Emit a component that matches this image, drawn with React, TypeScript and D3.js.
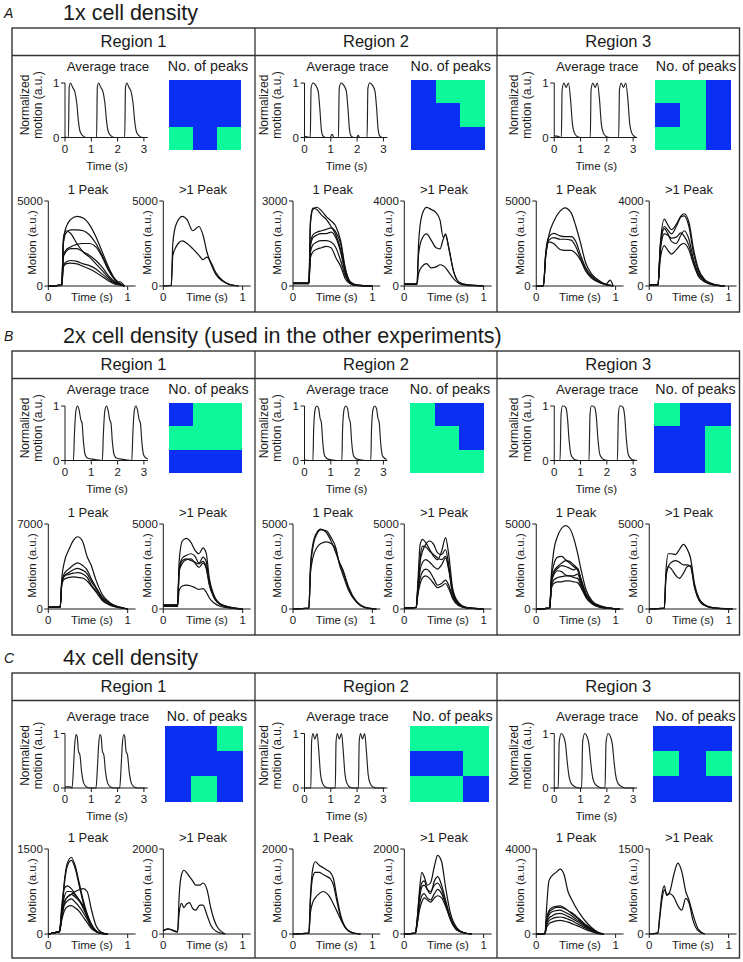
import React from "react";
import * as d3 from "d3";

type Pt = [number, number];

// ---------------- text ----------------
const PANEL_LETTERS = ["A", "B", "C"];
const PANEL_TITLES = ["1x cell density", "2x cell density (used in the other experiments)", "4x cell density"];
const REGION_LABELS = ["Region 1", "Region 2", "Region 3"];
const AVG_TITLE = "Average trace";
const MAP_TITLE = "No. of peaks";
const ONE_TITLE = "1 Peak";
const MULTI_TITLE = ">1 Peak";
const AVG_Y_LABEL = ["Normalized", "motion (a.u.)"];
const PEAK_Y_LABEL = "Motion (a.u.)";
const X_LABEL = "Time (s)";

const AVG_X_TICKS = [0, 1, 2, 3];
const AVG_Y_TICKS = [0, 1];
const PEAK_X_TICKS = [0, 1];

const PEAK_CLASSES = [1, 2];
const PEAK_COLORS = ["#0b2ff2", "#0df79b"];

// y-axis maxima of the "1 Peak" and ">1 Peak" plots (panel x region)
const ONE_MAX = [[5000, 3000, 5000], [7000, 5000, 5000], [1500, 2000, 4000]];
const MULTI_MAX = [[5000, 4000, 4000], [5000, 5000, 5000], [2000, 2000, 1500]];

// ---------------- average traces (time s, normalized motion) ----------------
const avgA1: Pt[] = [[0, 0.01], [0.13, 0], [0.16, 0.92], [0.21, 1], [0.29, 0.92], [0.38, 0.83], [0.45, 0.62], [0.51, 0.3], [0.58, 0.1], [0.68, 0.03], [0.83, 0],
  [1.2, 0], [1.23, 0.92], [1.28, 1], [1.36, 0.92], [1.45, 0.83], [1.52, 0.62], [1.58, 0.3], [1.65, 0.1], [1.75, 0.03], [1.9, 0],
  [2.27, 0], [2.3, 0.92], [2.35, 1], [2.43, 0.92], [2.52, 0.83], [2.59, 0.62], [2.65, 0.3], [2.72, 0.1], [2.82, 0.03], [2.97, 0], [3.05, 0]];
const avgA2: Pt[] = [[0, 0.02], [0.22, 0], [0.25, 0.9], [0.32, 1], [0.42, 0.96], [0.52, 0.85], [0.58, 0.55], [0.64, 0.15], [0.7, 0.03], [0.8, 0], [0.97, 0], [1.05, 0.06], [1.12, 0],
  [1.29, 0], [1.32, 0.9], [1.39, 1], [1.49, 0.96], [1.59, 0.85], [1.65, 0.55], [1.71, 0.15], [1.77, 0.03], [1.87, 0], [1.98, 0], [2.04, 0.04], [2.1, 0],
  [2.38, 0], [2.41, 0.9], [2.48, 1], [2.58, 0.96], [2.68, 0.85], [2.74, 0.55], [2.8, 0.15], [2.86, 0.03], [2.96, 0], [3.05, 0]];
const avgA3: Pt[] = [[0, 0.03], [0.15, 0.02], [0.27, 0], [0.3, 0.88], [0.37, 1], [0.45, 0.92], [0.54, 1], [0.62, 0.7], [0.69, 0.25], [0.77, 0.08], [0.87, 0.02], [1.02, 0],
  [1.37, 0], [1.4, 0.88], [1.47, 1], [1.55, 0.92], [1.64, 1], [1.72, 0.7], [1.79, 0.25], [1.87, 0.08], [1.97, 0.02], [2.12, 0],
  [2.45, 0], [2.48, 0.88], [2.55, 1], [2.63, 0.92], [2.72, 1], [2.8, 0.7], [2.87, 0.25], [2.95, 0.08], [3.05, 0.02], [3.12, 0]];
const avgB1: Pt[] = [[0.1, 0], [0.32, 0], [0.36, 0.5], [0.42, 0.93], [0.48, 1], [0.54, 0.92], [0.6, 0.75], [0.65, 0.68], [0.7, 0.35], [0.77, 0.1], [0.87, 0.04], [1.12, 0.02],
  [1.42, 0], [1.46, 0.5], [1.52, 0.93], [1.58, 1], [1.64, 0.92], [1.7, 0.75], [1.75, 0.68], [1.8, 0.35], [1.87, 0.1], [1.97, 0.04], [2.22, 0.02],
  [2.54, 0], [2.58, 0.5], [2.64, 0.93], [2.7, 1], [2.76, 0.92], [2.82, 0.75], [2.87, 0.68], [2.92, 0.35], [2.99, 0.1], [3.09, 0.04], [3.15, 0.03]];
const avgB2: Pt[] = [[0, 0.01], [0.32, 0], [0.35, 0.6], [0.41, 0.95], [0.47, 1], [0.54, 0.95], [0.59, 0.78], [0.64, 0.7], [0.7, 0.3], [0.77, 0.08], [0.92, 0.02], [1.22, 0],
  [1.42, 0], [1.45, 0.6], [1.51, 0.95], [1.57, 1], [1.64, 0.95], [1.69, 0.78], [1.74, 0.7], [1.8, 0.3], [1.87, 0.08], [2.02, 0.02], [2.32, 0],
  [2.52, 0], [2.55, 0.6], [2.61, 0.95], [2.67, 1], [2.74, 0.95], [2.79, 0.78], [2.84, 0.7], [2.9, 0.3], [2.97, 0.08], [3.12, 0.02]];
const avgB3: Pt[] = [[0, 0], [0.22, 0], [0.26, 0.85], [0.31, 1], [0.36, 1], [0.44, 0.97], [0.5, 0.8], [0.56, 0.4], [0.64, 0.1], [0.77, 0.02], [0.97, 0],
  [1.32, 0], [1.36, 0.85], [1.41, 1], [1.46, 1], [1.54, 0.97], [1.6, 0.8], [1.66, 0.4], [1.74, 0.1], [1.87, 0.02], [2.07, 0],
  [2.4, 0], [2.44, 0.85], [2.49, 1], [2.54, 1], [2.62, 0.97], [2.68, 0.8], [2.74, 0.4], [2.82, 0.1], [2.95, 0.02], [3.12, 0]];
const avgC1: Pt[] = [[0, 0.02], [0.2, 0.02], [0.27, 0], [0.32, 0.35], [0.37, 0.8], [0.42, 0.98], [0.46, 0.95], [0.51, 0.68], [0.57, 0.6], [0.63, 0.3], [0.72, 0.08], [0.82, 0.02], [0.97, 0],
  [1.18, 0], [1.23, 0.35], [1.28, 0.8], [1.33, 0.98], [1.37, 0.95], [1.42, 0.68], [1.48, 0.6], [1.54, 0.3], [1.63, 0.08], [1.73, 0.02], [1.88, 0],
  [2.08, 0], [2.13, 0.35], [2.18, 0.8], [2.23, 0.98], [2.27, 0.95], [2.32, 0.68], [2.38, 0.6], [2.44, 0.3], [2.53, 0.08], [2.63, 0.02], [2.78, 0], [3.05, 0]];
const avgC2: Pt[] = [[0, 0], [0.24, 0], [0.27, 0.85], [0.32, 1], [0.39, 0.9], [0.48, 1], [0.54, 0.7], [0.61, 0.25], [0.69, 0.08], [0.79, 0.02], [0.94, 0],
  [1.17, 0], [1.2, 0.85], [1.25, 1], [1.32, 0.9], [1.41, 1], [1.47, 0.7], [1.54, 0.25], [1.62, 0.08], [1.72, 0.02], [1.87, 0],
  [2.05, 0], [2.08, 0.85], [2.13, 1], [2.2, 0.9], [2.29, 1], [2.35, 0.7], [2.42, 0.25], [2.5, 0.08], [2.6, 0.02], [2.75, 0], [3.05, 0]];
const avgC3: Pt[] = [[0, 0], [0.15, 0], [0.19, 0.85], [0.27, 1], [0.35, 0.95], [0.43, 0.8], [0.49, 0.5], [0.55, 0.25], [0.65, 0.08], [0.8, 0.02], [0.95, 0],
  [1.04, 0], [1.08, 0.85], [1.16, 1], [1.24, 0.95], [1.32, 0.8], [1.38, 0.5], [1.44, 0.25], [1.54, 0.08], [1.69, 0.02], [1.84, 0],
  [1.93, 0], [1.97, 0.85], [2.05, 1], [2.13, 0.95], [2.21, 0.8], [2.27, 0.5], [2.33, 0.25], [2.43, 0.08], [2.58, 0.02], [2.73, 0], [3.05, 0]];

// ---------------- "No. of peaks" maps (1 = one peak, 2 = more than one) ----------------
const gridA1 = [[1, 1, 1], [1, 1, 1], [2, 1, 2]];
const gridA2 = [[1, 2, 2], [1, 1, 2], [1, 1, 1]];
const gridA3 = [[2, 2, 1], [1, 2, 1], [2, 2, 1]];
const gridB1 = [[1, 2, 2], [2, 2, 2], [1, 1, 1]];
const gridB2 = [[2, 1, 1], [2, 2, 1], [2, 2, 2]];
const gridB3 = [[2, 1, 1], [1, 1, 2], [1, 1, 2]];
const gridC1 = [[1, 1, 2], [1, 1, 1], [1, 2, 1]];
const gridC2 = [[2, 2, 2], [1, 1, 2], [2, 2, 1]];
const gridC3 = [[1, 1, 1], [2, 1, 2], [1, 1, 1]];

// ---------------- single-cell traces: times (s) and motion (a.u.) ----------------
const oneA1_t = [0, 0.17, 0.19, 0.22, 0.28, 0.36, 0.44, 0.52, 0.6, 0.68, 0.76, 0.84, 0.9, 0.96];
const oneA1 = [
  [0, 50, 2600, 3400, 3900, 4100, 4000, 3600, 2900, 2000, 1100, 400, 150, 0],
  [0, 50, 2500, 3100, 3300, 3300, 3250, 3000, 2500, 1800, 1000, 400, 150, 0],
  [0, 50, 2800, 3250, 3100, 2500, 2000, 1700, 1300, 900, 500, 200, 100, 0],
  [0, 50, 1800, 2100, 2300, 2450, 2500, 2500, 2300, 1700, 900, 350, 120, 0],
  [0, 50, 1700, 2000, 2200, 2200, 2000, 1800, 1500, 1100, 600, 250, 100, 0],
  [0, 50, 1200, 1400, 1500, 1450, 1300, 1200, 1000, 700, 400, 150, 250, 0],
  [0, 50, 1100, 1300, 1350, 1300, 1150, 1000, 800, 550, 300, 100, 50, 0],
];
const multiA1_t = [0, 0.1, 0.12, 0.16, 0.24, 0.3, 0.37, 0.45, 0.5, 0.55, 0.6, 0.66, 0.74, 0.84, 0.95];
const multiA1 = [
  [0, 30, 2500, 3600, 4100, 3900, 3250, 3500, 3000, 2000, 1300, 700, 300, 80, 0],
  [0, 30, 1800, 2300, 2650, 2500, 2200, 1800, 1550, 1700, 1400, 800, 350, 80, 0],
];
const oneA2_t = [0, 0.2, 0.22, 0.25, 0.3, 0.36, 0.42, 0.48, 0.54, 0.6, 0.66, 0.72, 0.8, 1.0];
const oneA2 = [
  [100, 100, 2200, 2700, 2780, 2650, 2450, 2300, 2100, 1600, 600, 150, 30, 0],
  [100, 100, 2300, 2750, 2700, 2500, 2350, 2100, 1800, 1300, 500, 120, 30, 0],
  [100, 100, 1500, 1800, 1900, 1950, 2000, 2050, 1900, 1500, 600, 150, 30, 0],
  [100, 100, 1400, 1700, 1800, 1850, 1850, 1900, 1700, 1200, 450, 100, 30, 0],
  [80, 80, 1200, 1450, 1550, 1600, 1600, 1550, 1350, 900, 350, 100, 20, 0],
  [80, 80, 1000, 1200, 1300, 1350, 1400, 1350, 1000, 700, 250, 80, 20, 0],
];
const multiA2_t = [0, 0.16, 0.18, 0.22, 0.28, 0.34, 0.4, 0.45, 0.49, 0.52, 0.56, 0.62, 0.7, 0.8, 1.0];
const multiA2 = [
  [100, 100, 2000, 3300, 3700, 3600, 3450, 3100, 2300, 2400, 1800, 700, 150, 50, 0],
  [100, 100, 1500, 2200, 2450, 2150, 1800, 1750, 2200, 2450, 1800, 700, 150, 50, 0],
  [80, 80, 600, 900, 1050, 850, 900, 1000, 950, 850, 650, 350, 100, 30, 0],
];
const oneA3_t = [0, 0.09, 0.12, 0.16, 0.22, 0.3, 0.36, 0.44, 0.5, 0.56, 0.62, 0.7, 0.8, 0.88, 0.93, 0.97];
const oneA3 = [
  [0, 0, 1800, 3000, 3800, 4400, 4600, 4300, 3500, 2500, 1400, 700, 300, 100, 350, 0],
  [0, 0, 2000, 2900, 3100, 2950, 2900, 2900, 2600, 1800, 1100, 600, 250, 100, 50, 0],
  [0, 0, 1900, 2700, 2850, 2750, 2750, 2700, 2300, 1600, 1000, 500, 200, 80, 40, 0],
  [0, 0, 1800, 2600, 2500, 2150, 2100, 2100, 1900, 1500, 900, 450, 200, 80, 30, 0],
];
const multiA3_t = [0, 0.11, 0.14, 0.19, 0.23, 0.28, 0.34, 0.4, 0.44, 0.5, 0.56, 0.62, 0.7, 0.8, 0.95];
const multiA3 = [
  [50, 50, 2000, 3150, 2900, 2650, 2900, 3300, 3400, 3000, 1700, 800, 300, 100, 0],
  [50, 50, 1900, 2800, 2650, 2450, 2800, 3250, 3300, 2800, 1500, 700, 250, 80, 0],
  [50, 50, 1800, 2700, 2500, 2100, 2000, 2400, 2600, 2200, 1200, 600, 250, 80, 0],
  [50, 50, 1700, 2450, 2400, 2250, 2300, 2500, 2350, 1900, 1100, 500, 200, 60, 0],
  [50, 50, 1300, 1900, 1700, 1500, 1700, 1950, 2000, 1700, 1000, 450, 200, 60, 0],
];
const oneB1_t = [0, 0.15, 0.17, 0.2, 0.26, 0.32, 0.37, 0.43, 0.49, 0.54, 0.6, 0.68, 0.78, 0.9, 1.0];
const oneB1 = [
  [150, 150, 2500, 3800, 4900, 5700, 5950, 5600, 4300, 3600, 2400, 1200, 500, 150, 0],
  [150, 150, 2200, 2900, 3300, 3650, 3800, 3600, 3200, 2500, 1800, 1000, 450, 150, 0],
  [150, 150, 2100, 2700, 3000, 3250, 3350, 3200, 2900, 2300, 1700, 900, 400, 120, 0],
  [150, 150, 2100, 2700, 2850, 2950, 3000, 2900, 2600, 2000, 1500, 800, 350, 100, 0],
  [150, 150, 2000, 2450, 2600, 2650, 2600, 2550, 2300, 1900, 1400, 700, 300, 100, 0],
];
const multiB1_t = [0, 0.18, 0.2, 0.24, 0.29, 0.35, 0.4, 0.45, 0.5, 0.54, 0.58, 0.64, 0.72, 0.85, 1.0];
const multiB1 = [
  [250, 250, 2800, 4000, 4150, 3900, 3450, 3250, 3600, 3300, 1800, 800, 300, 100, 0],
  [250, 250, 2400, 3000, 3150, 3250, 3100, 2700, 3050, 2800, 1600, 700, 300, 100, 0],
  [200, 200, 2300, 2850, 2950, 2850, 2750, 2650, 2800, 2500, 1500, 700, 250, 80, 0],
  [200, 200, 2200, 2700, 2900, 2950, 2700, 2450, 2700, 2400, 1400, 650, 250, 80, 0],
  [150, 150, 1100, 1350, 1400, 1350, 1250, 1150, 1200, 1000, 650, 350, 150, 50, 0],
];
const oneB2_t = [0, 0.2, 0.22, 0.25, 0.3, 0.35, 0.42, 0.48, 0.54, 0.58, 0.63, 0.7, 0.8, 0.9, 1.05];
const oneB2 = [
  [0, 50, 2500, 3800, 4500, 4700, 4500, 4000, 3300, 2800, 2200, 1200, 400, 100, 0],
  [0, 50, 2300, 3600, 4400, 4650, 4600, 4200, 3600, 2700, 2000, 1100, 400, 100, 0],
  [0, 50, 2100, 3000, 3600, 3850, 3950, 3850, 3500, 2800, 2300, 1300, 450, 120, 0],
];
const multiB2_t = [0, 0.15, 0.17, 0.2, 0.23, 0.27, 0.32, 0.37, 0.42, 0.47, 0.52, 0.56, 0.61, 0.68, 0.78, 1.0];
const multiB2 = [
  [50, 100, 1500, 3800, 4100, 3900, 3500, 3100, 2900, 3400, 4200, 3200, 1200, 400, 100, 0],
  [50, 100, 1200, 2800, 3400, 3800, 4000, 3800, 3300, 3200, 3500, 2600, 1000, 350, 80, 0],
  [50, 100, 1200, 3000, 3700, 3650, 3400, 3200, 3000, 2900, 3100, 2400, 900, 300, 80, 0],
  [50, 100, 1000, 2300, 2750, 2900, 2750, 2500, 2350, 2600, 3000, 2300, 900, 300, 80, 0],
  [50, 100, 900, 1800, 2200, 2350, 2200, 1800, 1400, 1500, 1700, 1400, 700, 250, 60, 0],
  [50, 100, 800, 1500, 1850, 1950, 1800, 1500, 1250, 1350, 1500, 1200, 600, 200, 60, 0],
];
const oneB3_t = [0, 0.17, 0.19, 0.22, 0.27, 0.32, 0.37, 0.42, 0.47, 0.52, 0.57, 0.63, 0.7, 0.8, 0.92, 1.05];
const oneB3 = [
  [0, 50, 2000, 3400, 4300, 4750, 4900, 4750, 4200, 3300, 2200, 1100, 500, 200, 60, 0],
  [0, 50, 1800, 2600, 3050, 3100, 2900, 2700, 2500, 2300, 1500, 800, 400, 150, 50, 0],
  [0, 50, 1600, 2200, 2500, 2700, 2850, 2800, 2600, 2350, 1700, 900, 450, 150, 50, 0],
  [0, 50, 1500, 2100, 2400, 2550, 2500, 2400, 2300, 2400, 1600, 800, 400, 150, 50, 0],
  [0, 50, 1500, 2000, 2250, 2200, 2000, 1950, 1950, 2050, 1400, 700, 350, 120, 40, 0],
  [0, 50, 1300, 1700, 1850, 1900, 1950, 1950, 1850, 1800, 1300, 700, 350, 120, 40, 0],
  [0, 50, 1200, 1500, 1600, 1600, 1650, 1650, 1600, 1550, 1200, 650, 300, 100, 30, 0],
];
const multiB3_t = [0, 0.19, 0.21, 0.24, 0.28, 0.33, 0.38, 0.43, 0.48, 0.52, 0.57, 0.63, 0.7, 0.8, 1.05];
const multiB3 = [
  [0, 50, 2200, 3250, 3250, 3200, 3500, 3800, 3500, 3000, 1500, 600, 250, 80, 0],
  [0, 50, 1800, 2500, 2750, 2850, 2750, 2600, 2600, 2500, 1300, 500, 200, 70, 0],
  [0, 50, 1900, 2500, 2350, 2000, 1800, 2100, 2500, 2550, 1300, 500, 200, 70, 0],
];
const oneC1_t = [0, 0.1, 0.14, 0.17, 0.2, 0.24, 0.29, 0.34, 0.39, 0.44, 0.49, 0.54, 0.6, 0.67, 0.75];
const oneC1 = [
  [0, 30, 40, 400, 900, 1250, 1350, 1200, 900, 600, 350, 150, 50, 10, 0],
  [0, 30, 40, 350, 850, 1200, 1300, 1150, 850, 550, 300, 150, 50, 10, 0],
  [0, 30, 40, 500, 800, 850, 800, 700, 600, 450, 300, 150, 50, 10, 0],
  [0, 30, 40, 400, 650, 750, 750, 680, 600, 500, 350, 180, 60, 10, 0],
  [0, 30, 40, 350, 550, 650, 700, 650, 580, 480, 330, 170, 60, 10, 0],
  [0, 30, 40, 300, 500, 580, 620, 560, 480, 380, 260, 130, 50, 10, 0],
  [0, 30, 40, 250, 400, 480, 500, 460, 400, 300, 200, 100, 40, 10, 0],
  [0, 30, 40, 300, 550, 650, 700, 750, 780, 800, 750, 450, 150, 30, 0],
];
const multiC1_t = [0, 0.06, 0.18, 0.2, 0.23, 0.26, 0.29, 0.33, 0.37, 0.41, 0.46, 0.5, 0.55, 0.6, 0.67, 0.78];
const multiC1 = [
  [80, 120, 50, 900, 1400, 1500, 1450, 1350, 1250, 1150, 1150, 1200, 1050, 600, 200, 0],
  [80, 120, 50, 500, 720, 620, 700, 740, 600, 560, 680, 680, 450, 200, 60, 0],
];
const oneC2_t = [0, 0.2, 0.22, 0.25, 0.28, 0.33, 0.38, 0.43, 0.47, 0.51, 0.55, 0.6, 0.66, 0.74, 0.85];
const oneC2 = [
  [0, 20, 900, 1550, 1700, 1620, 1560, 1500, 1450, 1300, 900, 450, 150, 30, 0],
  [0, 20, 800, 1350, 1450, 1450, 1400, 1350, 1300, 1150, 800, 400, 150, 30, 0],
  [0, 20, 500, 750, 850, 950, 1000, 950, 850, 700, 550, 350, 150, 40, 0],
];
const multiC2_t = [0, 0.14, 0.16, 0.19, 0.22, 0.25, 0.29, 0.33, 0.38, 0.42, 0.47, 0.52, 0.58, 0.66, 0.75, 0.85];
const multiC2 = [
  [0, 20, 300, 1000, 1450, 1350, 1150, 1200, 1600, 1850, 1700, 1100, 500, 150, 30, 0],
  [0, 20, 300, 900, 1200, 1250, 1050, 950, 1250, 1350, 1150, 800, 400, 120, 30, 0],
  [0, 20, 250, 800, 1100, 1150, 1050, 1000, 1150, 1200, 1050, 750, 350, 100, 30, 0],
  [0, 20, 200, 650, 900, 950, 850, 800, 950, 1050, 950, 700, 350, 100, 30, 0],
  [0, 20, 200, 550, 750, 850, 800, 750, 850, 900, 850, 650, 350, 100, 30, 0],
];
const oneC3_t = [0, 0.11, 0.13, 0.16, 0.2, 0.25, 0.3, 0.35, 0.4, 0.45, 0.5, 0.56, 0.62, 0.7, 0.78, 0.85];
const oneC3 = [
  [0, 20, 1200, 2500, 2750, 2900, 3050, 2800, 2000, 1600, 1250, 900, 600, 300, 80, 0],
  [0, 20, 700, 1100, 1250, 1300, 1320, 1250, 1100, 1000, 850, 650, 450, 250, 60, 0],
  [0, 20, 650, 1000, 1150, 1250, 1250, 1200, 1100, 950, 800, 600, 420, 230, 50, 0],
  [0, 20, 600, 900, 1050, 1100, 1120, 1050, 950, 850, 700, 550, 380, 200, 50, 0],
  [0, 20, 500, 750, 850, 950, 970, 920, 830, 730, 620, 480, 330, 170, 40, 0],
  [0, 20, 400, 620, 720, 780, 800, 770, 700, 620, 520, 400, 280, 150, 30, 0],
  [0, 20, 300, 480, 560, 620, 640, 610, 560, 490, 410, 320, 220, 110, 20, 0],
];
const multiC3_t = [0, 0.11, 0.13, 0.16, 0.19, 0.22, 0.26, 0.31, 0.36, 0.41, 0.46, 0.5, 0.55, 0.62, 0.7];
const multiC3 = [
  [0, 20, 300, 700, 850, 680, 750, 1050, 1250, 1100, 750, 600, 350, 80, 0],
  [0, 20, 250, 600, 780, 700, 710, 650, 500, 420, 630, 550, 250, 50, 0],
];

const REGIONS = [
  [
    { avg: avgA1, grid: gridA1, oneT: oneA1_t, one: oneA1, multiT: multiA1_t, multi: multiA1 },
    { avg: avgA2, grid: gridA2, oneT: oneA2_t, one: oneA2, multiT: multiA2_t, multi: multiA2 },
    { avg: avgA3, grid: gridA3, oneT: oneA3_t, one: oneA3, multiT: multiA3_t, multi: multiA3 },
  ],
  [
    { avg: avgB1, grid: gridB1, oneT: oneB1_t, one: oneB1, multiT: multiB1_t, multi: multiB1 },
    { avg: avgB2, grid: gridB2, oneT: oneB2_t, one: oneB2, multiT: multiB2_t, multi: multiB2 },
    { avg: avgB3, grid: gridB3, oneT: oneB3_t, one: oneB3, multiT: multiB3_t, multi: multiB3 },
  ],
  [
    { avg: avgC1, grid: gridC1, oneT: oneC1_t, one: oneC1, multiT: multiC1_t, multi: multiC1 },
    { avg: avgC2, grid: gridC2, oneT: oneC2_t, one: oneC2, multiT: multiC2_t, multi: multiC2 },
    { avg: avgC3, grid: gridC3, oneT: oneC3_t, one: oneC3, multiT: multiC3_t, multi: multiC3 },
  ],
];

// ---------------- layout ----------------
const W = 743;
const H = 962;
const FONT = "'Liberation Sans', Arial, Helvetica, sans-serif";
const INK = "#1a1a1a";
const COL_EDGES = [12, 255, 497, 739.5];
const BOX_TOP = [28, 351, 673];
const BOX_BOTTOM = [312, 635, 958];
const HEADER_H = 27.5;
const AVG_DY = [0, 0, 5.5];
const BOT_DY = [0, 0, 3];
const AVG_SHIFT = [0, -3, 4.5];
const P1_X = [-85.2, -83, -82];
const P2_X = [29.8, 28.3, 31];
const HEAT_DX = [[35.8, 34.7, 36.5], [35.5, 33.5, 36], [31.5, 34, 35]];
const HEAT_W = [[72, 73.5, 76], [73, 74, 77], [78, 79, 79]];
const HEAT_Y = [51.5, 51.5, 53];
const HEAT_H = [70, 70, 75.5];

function PeakPlot({ x0, top, max, T, lines, title }: { x0: number; top: number; max: number; T: number[]; lines: number[][]; title: string }) {
  const x = d3.scaleLinear().domain([0, 1.1]).range([x0, x0 + 87.3]);
  const y = d3.scaleLinear().domain([0, max]).range([top + 258, top + 173]);
  const line = d3
    .line<Pt>()
    .x((d) => x(d[0]))
    .y((d) => y(d[1]))
    .curve(d3.curveMonotoneX);
  const yTicks = [0, max];
  return (
    <g>
      <text x={x(0.5)} y={top + 166} textAnchor="middle" fontSize={13} fill={INK}>
        {title}
      </text>
      {lines.map((vals, i) => (
        <path key={i} d={line(T.map((t, k) => [t, vals[k]] as Pt)) || ""} fill="none" stroke="#111" strokeWidth={1.2} strokeLinejoin="round" />
      ))}
      <line x1={x(0)} x2={x(0)} y1={y(0)} y2={y(max)} stroke={INK} strokeWidth={1} />
      <line x1={x(0)} x2={x(1.1)} y1={y(0)} y2={y(0)} stroke={INK} strokeWidth={1} />
      {yTicks.map((v) => (
        <g key={v}>
          <line x1={x(0) - 4} x2={x(0)} y1={y(v)} y2={y(v)} stroke={INK} strokeWidth={1} />
          <text x={x(0) - 5.5} y={y(v)} dy="0.35em" textAnchor="end" fontSize={11.5} fill={INK}>
            {v}
          </text>
        </g>
      ))}
      {PEAK_X_TICKS.map((v) => (
        <g key={v}>
          <line x1={x(v)} x2={x(v)} y1={y(0)} y2={y(0) + 4} stroke={INK} strokeWidth={1} />
          <text x={x(v)} y={y(0) + 15} textAnchor="middle" fontSize={11.5} fill={INK}>
            {v}
          </text>
        </g>
      ))}
      <text x={x(0.55)} y={y(0) + 15} textAnchor="middle" fontSize={11.5} fill={INK}>
        {X_LABEL}
      </text>
      <text transform={`translate(${x(0) - 12.5},${(y(0) + y(max)) / 2 - 1}) rotate(-90)`} textAnchor="middle" fontSize={11.5} fill={INK}>
        {PEAK_Y_LABEL}
      </text>
    </g>
  );
}

function Region({ p, c }: { p: number; c: number }) {
  const r = REGIONS[p][c];
  const top = BOX_TOP[p];
  const cx = (COL_EDGES[c] + COL_EDGES[c + 1]) / 2;
  const ady = AVG_DY[p];
  const bdy = BOT_DY[p];

  const ax0 = cx - 68.5 + AVG_SHIFT[c];
  const xA = d3.scaleLinear().domain([0, 3.15]).range([ax0, ax0 + 3.15 * 26.3]);
  const yA = d3.scaleLinear().domain([0, 1]).range([top + 109.5 + ady, top + 55 + ady]);
  const lineA = d3
    .line<Pt>()
    .x((d) => xA(d[0]))
    .y((d) => yA(d[1]))
    .curve(d3.curveMonotoneX);

  const hx = Math.round(cx + HEAT_DX[p][c]);
  const hw = HEAT_W[p][c];
  const hy = Math.round(top + HEAT_Y[p]);
  const hh = HEAT_H[p];
  const bx = d3.scaleBand<number>().domain([0, 1, 2]).range([hx, hx + hw]);
  const by = d3.scaleBand<number>().domain([0, 1, 2]).range([hy, hy + hh]);
  const color = d3.scaleOrdinal<number, string>().domain(PEAK_CLASSES).range(PEAK_COLORS);

  return (
    <g>
      <text x={cx} y={top + 18.5} textAnchor="middle" fontSize={16.5} fill={INK}>
        {REGION_LABELS[c]}
      </text>
      {/* average trace */}
      <text x={cx - 25.5 + AVG_SHIFT[c]} y={top + 42.5 + ady} textAnchor="middle" fontSize={13.3} fill={INK}>
        {AVG_TITLE}
      </text>
      <path d={lineA(r.avg) || ""} fill="none" stroke="#222" strokeWidth={1.15} strokeLinejoin="round" />
      <line x1={xA(0)} x2={xA(0)} y1={yA(0)} y2={yA(1)} stroke={INK} strokeWidth={1} />
      <line x1={xA(0)} x2={xA(3.15)} y1={yA(0)} y2={yA(0)} stroke={INK} strokeWidth={1} />
      {AVG_Y_TICKS.map((v) => (
        <g key={v}>
          <line x1={xA(0) - 4} x2={xA(0)} y1={yA(v)} y2={yA(v)} stroke={INK} strokeWidth={1} />
          <text x={xA(0) - 5.5} y={yA(v)} dy="0.35em" textAnchor="end" fontSize={11.5} fill={INK}>
            {v}
          </text>
        </g>
      ))}
      {AVG_X_TICKS.map((v) => (
        <g key={v}>
          <line x1={xA(v)} x2={xA(v)} y1={yA(0)} y2={yA(0) + 4} stroke={INK} strokeWidth={1} />
          <text x={xA(v)} y={yA(0) + 15} textAnchor="middle" fontSize={11.5} fill={INK}>
            {v}
          </text>
        </g>
      ))}
      <text x={xA(1.6)} y={yA(0) + 32} textAnchor="middle" fontSize={11.5} fill={INK}>
        {X_LABEL}
      </text>
      <text transform={`translate(${xA(0) - 36.5},${top + 77 + ady}) rotate(-90)`} textAnchor="middle" fontSize={12} fill={INK}>
        {AVG_Y_LABEL[0]}
      </text>
      <text transform={`translate(${xA(0) - 23.5},${top + 77 + ady}) rotate(-90)`} textAnchor="middle" fontSize={12} fill={INK}>
        {AVG_Y_LABEL[1]}
      </text>
      {/* peak map */}
      <text x={hx + hw / 2 + 3} y={top + 42.5 + ady} textAnchor="middle" fontSize={14.3} fill={INK}>
        {MAP_TITLE}
      </text>
      {r.grid.map((row, i) =>
        row.map((v, j) => (
          <rect
            key={`${i}-${j}`}
            x={bx(j)}
            y={by(i)}
            width={bx.bandwidth() + (j < 2 ? 1 : 0)}
            height={by.bandwidth() + (i < 2 ? 1 : 0)}
            fill={color(v)}
            shapeRendering="crispEdges"
          />
        ))
      )}
      {/* single-cell traces */}
      <PeakPlot x0={cx + P1_X[c]} top={top + bdy} max={ONE_MAX[p][c]} T={r.oneT} lines={r.one} title={ONE_TITLE} />
      <PeakPlot x0={cx + P2_X[c]} top={top + bdy} max={MULTI_MAX[p][c]} T={r.multiT} lines={r.multi} title={MULTI_TITLE} />
    </g>
  );
}

function Panel({ p }: { p: number }) {
  const top = BOX_TOP[p];
  const bottom = BOX_BOTTOM[p];
  return (
    <g>
      <text x={4} y={top - 10} fontSize={14} fontStyle="italic" fill={INK}>
        {PANEL_LETTERS[p]}
      </text>
      <text x={63} y={top - 8.5} fontSize={21.5} fill={INK}>
        {PANEL_TITLES[p]}
      </text>
      <rect x={COL_EDGES[0]} y={top} width={COL_EDGES[3] - COL_EDGES[0]} height={bottom - top} fill="none" stroke="#333" strokeWidth={1.4} />
      <line x1={COL_EDGES[0]} x2={COL_EDGES[3]} y1={top + HEADER_H} y2={top + HEADER_H} stroke="#333" strokeWidth={1.3} />
      {[1, 2].map((k) => (
        <line key={k} x1={COL_EDGES[k]} x2={COL_EDGES[k]} y1={top} y2={bottom} stroke="#333" strokeWidth={1.3} />
      ))}
      {[0, 1, 2].map((c) => (
        <Region key={c} p={p} c={c} />
      ))}
    </g>
  );
}

export default function App() {
  return (
    <svg
      width={W}
      height={H}
      viewBox={`0 0 ${W} ${H}`}
      style={{ position: "absolute", left: 0, top: 0, background: "#fff", fontFamily: FONT }}
      fontFamily={FONT}
    >
      <rect x={0} y={0} width={W} height={H} fill="#fff" />
      {[0, 1, 2].map((p) => (
        <Panel key={p} p={p} />
      ))}
    </svg>
  );
}
